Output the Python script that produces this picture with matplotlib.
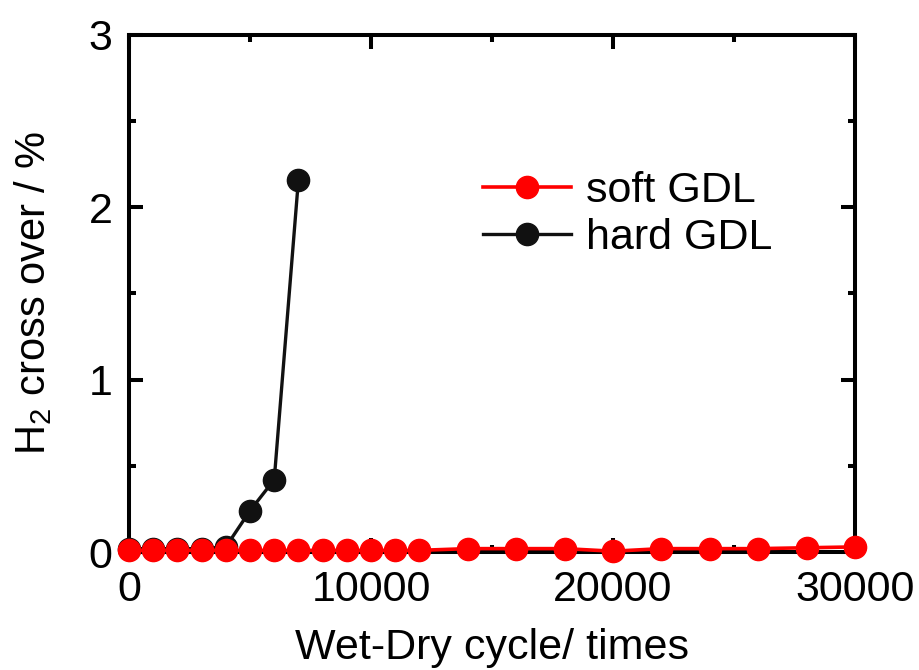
import numpy as np
import matplotlib
matplotlib.use('Agg')
import matplotlib.pyplot as plt
from matplotlib.ticker import MultipleLocator

plt.rcParams['font.family'] = ['Liberation Sans', 'DejaVu Sans']
plt.rcParams['mathtext.fontset'] = 'custom'
plt.rcParams['mathtext.rm'] = 'Liberation Sans'
plt.rcParams['mathtext.it'] = 'Liberation Sans:italic'

# data
soft_cycles = [0, 1000, 2000, 3000, 4000, 5000, 6000, 7000, 8000, 9000, 10000, 11000, 12000,
               14000, 16000, 18000, 20000, 22000, 24000, 26000, 28000, 30000]
soft_h2 = [0.01, 0.01, 0.01, 0.01, 0.01, 0.01, 0.01, 0.01, 0.01, 0.01, 0.01, 0.01, 0.01,
           0.02, 0.02, 0.02, 0.005, 0.02, 0.02, 0.02, 0.025, 0.03]

hard_cycles = [0, 1000, 2000, 3000, 4000, 5000, 6000, 7000]
hard_h2 = [0.02, 0.02, 0.02, 0.02, 0.03, 0.24, 0.42, 2.16]

fig = plt.figure(figsize=(9.19, 6.70), dpi=100)
ax = fig.add_axes([0.1404, 0.176, 0.790, 0.772])

h_hard, = ax.plot(hard_cycles, hard_h2, '-o', color='#111111', lw=2.4, ms=16,
                  clip_on=False, zorder=3, label='hard GDL')
h_soft, = ax.plot(soft_cycles, soft_h2, '-o', color='#ff0000', lw=2.6, ms=16,
                  clip_on=False, zorder=4, label='soft GDL')

ax.set_xlim(0, 30000)
ax.set_ylim(0, 3)
ax.xaxis.set_major_locator(MultipleLocator(10000))
ax.xaxis.set_minor_locator(MultipleLocator(5000))
ax.yaxis.set_major_locator(MultipleLocator(1))
ax.yaxis.set_minor_locator(MultipleLocator(0.5))

for s in ax.spines.values():
    s.set_linewidth(2.9)

ax.tick_params(which='both', direction='in', top=True, right=True, width=2.9, labelsize=31)
ax.tick_params(axis='x', which='major', length=10, pad=13)
ax.tick_params(axis='y', which='major', length=10, pad=12)
ax.tick_params(which='minor', length=5)

ax.set_xlabel('Wet-Dry cycle/ times', fontsize=31, labelpad=13)
ax.set_ylabel('H$_2$ cross over / %', fontsize=30, labelpad=25)

ax.legend([h_soft, h_hard], ['soft GDL', 'hard GDL'], loc='upper left',
          bbox_to_anchor=(0.458, 0.778), frameon=False, fontsize=31,
          handlelength=2.05, handletextpad=0.35, labelspacing=0.15, borderpad=0)

fig.savefig('out.png', dpi=100)
